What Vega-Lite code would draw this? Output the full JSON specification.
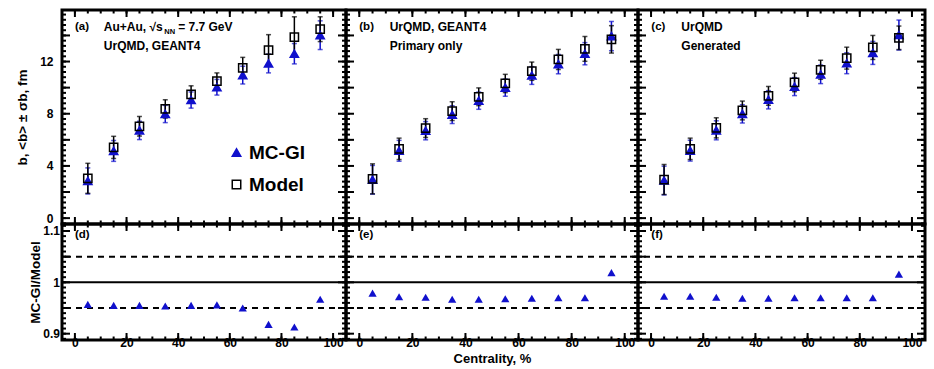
{
"$schema": "https://vega.github.io/schema/vega-lite/v6.json",
"padding": {"left": 14, "top": 7, "right": 2, "bottom": 2},
"background": "white",
"bounds": "flush",
"config": {
  "view": {"stroke": "black", "strokeWidth": 3},
  "font": "Liberation Sans",
  "axis": {"domain": false, "grid": false, "ticks": false, "labelFont": "Liberation Sans", "labelFontWeight": "bold", "labelFontSize": 12, "labelColor": "black", "titleFont": "Liberation Sans", "titleFontWeight": "bold", "titleFontSize": 13.5, "titleColor": "black", "minExtent": 0, "labelFlush": false, "labelOverlap": false},
  "rule": {"color": "black", "strokeWidth": 2},
  "text": {"font": "Liberation Sans", "fontWeight": "bold", "color": "black"}
},
"datasets": {
  "xmaj": [{"v":0},{"v":20},{"v":40},{"v":60},{"v":80},{"v":100}],
  "xmin": [{"v":0},{"v":5},{"v":10},{"v":15},{"v":20},{"v":25},{"v":30},{"v":35},{"v":40},{"v":45},{"v":50},{"v":55},{"v":60},{"v":65},{"v":70},{"v":75},{"v":80},{"v":85},{"v":90},{"v":95},{"v":100}],
  "ytmaj": [{"v":0},{"v":2},{"v":4},{"v":6},{"v":8},{"v":10},{"v":12},{"v":14}],
  "ytmin": [{"v":-0.4},{"v":0},{"v":0.4},{"v":0.8},{"v":1.2},{"v":1.6},{"v":2},{"v":2.4},{"v":2.8},{"v":3.2},{"v":3.6},{"v":4},{"v":4.4},{"v":4.8},{"v":5.2},{"v":5.6},{"v":6},{"v":6.4},{"v":6.8},{"v":7.2},{"v":7.6},{"v":8},{"v":8.4},{"v":8.8},{"v":9.2},{"v":9.6},{"v":10},{"v":10.4},{"v":10.8},{"v":11.2},{"v":11.6},{"v":12},{"v":12.4},{"v":12.8},{"v":13.2},{"v":13.6},{"v":14},{"v":14.4},{"v":14.8},{"v":15.2},{"v":15.6}],
  "yrmaj": [{"v":0.9},{"v":0.95},{"v":1},{"v":1.05},{"v":1.1}],
  "yrmin": [{"v":0.89},{"v":0.9},{"v":0.91},{"v":0.92},{"v":0.93},{"v":0.94},{"v":0.95},{"v":0.96},{"v":0.97},{"v":0.98},{"v":0.99},{"v":1},{"v":1.01},{"v":1.02},{"v":1.03},{"v":1.04},{"v":1.05},{"v":1.06},{"v":1.07},{"v":1.08},{"v":1.09},{"v":1.1},{"v":1.11}],
  "a": [
    {"cent":5,"series":"MC-GI","b":2.85,"sb":1.0},{"cent":15,"series":"MC-GI","b":5.15,"sb":0.8},{"cent":25,"series":"MC-GI","b":6.72,"sb":0.7},{"cent":35,"series":"MC-GI","b":7.98,"sb":0.66},{"cent":45,"series":"MC-GI","b":9.05,"sb":0.62},{"cent":55,"series":"MC-GI","b":10.03,"sb":0.6},{"cent":65,"series":"MC-GI","b":10.96,"sb":0.68},{"cent":75,"series":"MC-GI","b":11.85,"sb":0.72},{"cent":85,"series":"MC-GI","b":12.6,"sb":0.78},{"cent":95,"series":"MC-GI","b":14.02,"sb":1.1},
    {"cent":5,"series":"Model","b":3.05,"sb":1.15},{"cent":15,"series":"Model","b":5.42,"sb":0.85},{"cent":25,"series":"Model","b":7.04,"sb":0.75},{"cent":35,"series":"Model","b":8.37,"sb":0.7},{"cent":45,"series":"Model","b":9.48,"sb":0.66},{"cent":55,"series":"Model","b":10.5,"sb":0.63},{"cent":65,"series":"Model","b":11.52,"sb":0.8},{"cent":75,"series":"Model","b":12.88,"sb":1.18},{"cent":85,"series":"Model","b":13.88,"sb":1.55},{"cent":95,"series":"Model","b":14.48,"sb":0.95}
  ],
  "b": [
    {"cent":5,"series":"MC-GI","b":2.94,"sb":1.1},{"cent":15,"series":"MC-GI","b":5.16,"sb":0.8},{"cent":25,"series":"MC-GI","b":6.7,"sb":0.7},{"cent":35,"series":"MC-GI","b":7.93,"sb":0.68},{"cent":45,"series":"MC-GI","b":9.0,"sb":0.66},{"cent":55,"series":"MC-GI","b":10.0,"sb":0.66},{"cent":65,"series":"MC-GI","b":10.93,"sb":0.68},{"cent":75,"series":"MC-GI","b":11.8,"sb":0.74},{"cent":85,"series":"MC-GI","b":12.6,"sb":0.85},{"cent":95,"series":"MC-GI","b":13.95,"sb":1.12},
    {"cent":5,"series":"Model","b":3.01,"sb":1.15},{"cent":15,"series":"Model","b":5.31,"sb":0.82},{"cent":25,"series":"Model","b":6.9,"sb":0.72},{"cent":35,"series":"Model","b":8.2,"sb":0.72},{"cent":45,"series":"Model","b":9.3,"sb":0.68},{"cent":55,"series":"Model","b":10.32,"sb":0.7},{"cent":65,"series":"Model","b":11.26,"sb":0.7},{"cent":75,"series":"Model","b":12.16,"sb":0.77},{"cent":85,"series":"Model","b":12.97,"sb":0.95},{"cent":95,"series":"Model","b":13.7,"sb":1.05}
  ],
  "c": [
    {"cent":5,"series":"MC-GI","b":2.88,"sb":1.1},{"cent":15,"series":"MC-GI","b":5.17,"sb":0.8},{"cent":25,"series":"MC-GI","b":6.73,"sb":0.73},{"cent":35,"series":"MC-GI","b":7.99,"sb":0.7},{"cent":45,"series":"MC-GI","b":9.07,"sb":0.7},{"cent":55,"series":"MC-GI","b":10.08,"sb":0.69},{"cent":65,"series":"MC-GI","b":11.02,"sb":0.71},{"cent":75,"series":"MC-GI","b":11.87,"sb":0.8},{"cent":85,"series":"MC-GI","b":12.66,"sb":0.88},{"cent":95,"series":"MC-GI","b":14.03,"sb":1.15},
    {"cent":5,"series":"Model","b":2.96,"sb":1.15},{"cent":15,"series":"Model","b":5.31,"sb":0.82},{"cent":25,"series":"Model","b":6.92,"sb":0.77},{"cent":35,"series":"Model","b":8.25,"sb":0.72},{"cent":45,"series":"Model","b":9.37,"sb":0.72},{"cent":55,"series":"Model","b":10.4,"sb":0.71},{"cent":65,"series":"Model","b":11.37,"sb":0.73},{"cent":75,"series":"Model","b":12.26,"sb":0.84},{"cent":85,"series":"Model","b":13.08,"sb":0.92},{"cent":95,"series":"Model","b":13.82,"sb":0.9}
  ],
  "d": [{"cent":5,"r":0.957},{"cent":15,"r":0.955},{"cent":25,"r":0.955},{"cent":35,"r":0.954},{"cent":45,"r":0.955},{"cent":55,"r":0.956},{"cent":65,"r":0.95},{"cent":75,"r":0.918},{"cent":85,"r":0.913},{"cent":95,"r":0.967}],
  "e": [{"cent":5,"r":0.979},{"cent":15,"r":0.972},{"cent":25,"r":0.971},{"cent":35,"r":0.967},{"cent":45,"r":0.967},{"cent":55,"r":0.968},{"cent":65,"r":0.969},{"cent":75,"r":0.97},{"cent":85,"r":0.97},{"cent":95,"r":1.019}],
  "f": [{"cent":5,"r":0.973},{"cent":15,"r":0.973},{"cent":25,"r":0.971},{"cent":35,"r":0.969},{"cent":45,"r":0.969},{"cent":55,"r":0.97},{"cent":65,"r":0.97},{"cent":75,"r":0.97},{"cent":85,"r":0.97},{"cent":95,"r":1.016}]
},
"columns": 3,
"spacing": 0,
"concat": [
  {
    "width": 284, "height": 214,
    "data": {"name": "a"},
    "layer": [
      {"data": {"name": "xmaj"}, "mark": "rule", "encoding": {"x": {"field": "v", "type": "quantitative", "scale": {"domain": [-5,105], "nice": false, "zero": false}, "axis": null}, "y": {"datum": -0.45, "type": "quantitative", "scale": {"domain": [-0.45,15.95], "nice": false, "zero": false}}, "y2": {"datum": 0.086}}},
      {"data": {"name": "xmaj"}, "mark": "rule", "encoding": {"x": {"field": "v", "type": "quantitative", "scale": {"domain": [-5,105], "nice": false, "zero": false}, "axis": null}, "y": {"datum": 15.95, "type": "quantitative", "scale": {"domain": [-0.45,15.95], "nice": false, "zero": false}}, "y2": {"datum": 15.414}}},
      {"data": {"name": "xmin"}, "mark": "rule", "encoding": {"x": {"field": "v", "type": "quantitative", "scale": {"domain": [-5,105], "nice": false, "zero": false}, "axis": null}, "y": {"datum": -0.45, "type": "quantitative", "scale": {"domain": [-0.45,15.95], "nice": false, "zero": false}}, "y2": {"datum": -0.182}}},
      {"data": {"name": "xmin"}, "mark": "rule", "encoding": {"x": {"field": "v", "type": "quantitative", "scale": {"domain": [-5,105], "nice": false, "zero": false}, "axis": null}, "y": {"datum": 15.95, "type": "quantitative", "scale": {"domain": [-0.45,15.95], "nice": false, "zero": false}}, "y2": {"datum": 15.682}}},
      {"data": {"name": "ytmaj"}, "mark": "rule", "encoding": {"y": {"field": "v", "type": "quantitative", "scale": {"domain": [-0.45,15.95], "nice": false, "zero": false}}, "x": {"datum": -5, "type": "quantitative", "scale": {"domain": [-5,105], "nice": false, "zero": false}, "axis": null}, "x2": {"datum": -1.9}}},
      {"data": {"name": "ytmaj"}, "mark": "rule", "encoding": {"y": {"field": "v", "type": "quantitative", "scale": {"domain": [-0.45,15.95], "nice": false, "zero": false}}, "x": {"datum": 105, "type": "quantitative", "scale": {"domain": [-5,105], "nice": false, "zero": false}, "axis": null}, "x2": {"datum": 101.9}}},
      {"data": {"name": "ytmin"}, "mark": "rule", "encoding": {"y": {"field": "v", "type": "quantitative", "scale": {"domain": [-0.45,15.95], "nice": false, "zero": false}}, "x": {"datum": -5, "type": "quantitative", "scale": {"domain": [-5,105], "nice": false, "zero": false}, "axis": null}, "x2": {"datum": -3.45}}},
      {"data": {"name": "ytmin"}, "mark": "rule", "encoding": {"y": {"field": "v", "type": "quantitative", "scale": {"domain": [-0.45,15.95], "nice": false, "zero": false}}, "x": {"datum": 105, "type": "quantitative", "scale": {"domain": [-5,105], "nice": false, "zero": false}, "axis": null}, "x2": {"datum": 103.45}}},
      {"transform": [{"filter": "datum.series === 'MC-GI'"}], "mark": {"type": "errorbar", "ticks": true, "color": "#1010cc", "thickness": 1.5, "size": 5}, "encoding": {"x": {"field": "cent", "type": "quantitative", "scale": {"domain": [-5,105], "nice": false, "zero": false}, "axis": null}, "y": {"field": "b", "type": "quantitative", "scale": {"domain": [-0.45,15.95], "nice": false, "zero": false}}, "yError": {"field": "sb"}}},
      {"transform": [{"filter": "datum.series === 'Model'"}], "mark": {"type": "errorbar", "ticks": true, "color": "black", "thickness": 1.5, "size": 5}, "encoding": {"x": {"field": "cent", "type": "quantitative", "scale": {"domain": [-5,105], "nice": false, "zero": false}, "axis": null}, "y": {"field": "b", "type": "quantitative", "scale": {"domain": [-0.45,15.95], "nice": false, "zero": false}}, "yError": {"field": "sb"}}},
      {"mark": {"type": "point", "opacity": 1, "strokeWidth": 1.5, "size": 68}, "encoding": {
        "x": {"field": "cent", "type": "quantitative", "scale": {"domain": [-5,105], "nice": false, "zero": false}, "axis": null},
        "y": {"field": "b", "type": "quantitative", "scale": {"domain": [-0.45,15.95], "nice": false, "zero": false}, "axis": {"orient": "left", "values": [0,2,4,6,8,10,12,14], "labelPadding": 9, "title": "<b> ± σb, fm", "titlePadding": 10}},
        "shape": {"field": "series", "type": "nominal", "scale": {"domain": ["MC-GI","Model"], "range": ["triangle-up","square"]}, "legend": {"orient": "none", "legendX": 165, "legendY": 133, "title": null, "labelFontSize": 19, "labelFont": "Liberation Sans", "labelFontWeight": "bold", "labelColor": "black", "symbolSize": 72, "symbolStrokeWidth": 1.5, "rowPadding": 12, "labelOffset": 3, "padding": 0}},
        "fill": {"field": "series", "type": "nominal", "scale": {"domain": ["MC-GI","Model"], "range": ["#1010cc","transparent"]}, "legend": {"orient": "none", "legendX": 165, "legendY": 133, "title": null, "labelFontSize": 19, "labelFont": "Liberation Sans", "labelFontWeight": "bold", "labelColor": "black", "symbolSize": 72, "symbolStrokeWidth": 1.5, "rowPadding": 12, "labelOffset": 3, "padding": 0}},
        "stroke": {"field": "series", "type": "nominal", "scale": {"domain": ["MC-GI","Model"], "range": ["#1010cc","black"]}, "legend": {"orient": "none", "legendX": 165, "legendY": 133, "title": null, "labelFontSize": 19, "labelFont": "Liberation Sans", "labelFontWeight": "bold", "labelColor": "black", "symbolSize": 72, "symbolStrokeWidth": 1.5, "rowPadding": 12, "labelOffset": 3, "padding": 0}}
      }},
      {"data": {"values": [{"t": "(a)"}]}, "mark": {"type": "text", "align": "left", "baseline": "middle", "fontSize": 11.5}, "encoding": {"text": {"field": "t"}, "x": {"datum": 0, "type": "quantitative", "scale": {"domain": [-5,105], "nice": false, "zero": false}, "axis": null}, "y": {"datum": 14.65, "type": "quantitative", "scale": {"domain": [-0.45,15.95], "nice": false, "zero": false}}}},
      {"data": {"values": [{"t": "Au+Au, √s"}]}, "mark": {"type": "text", "align": "left", "baseline": "middle", "fontSize": 12}, "encoding": {"text": {"field": "t"}, "x": {"datum": 11.2, "type": "quantitative", "scale": {"domain": [-5,105], "nice": false, "zero": false}, "axis": null}, "y": {"datum": 14.65, "type": "quantitative", "scale": {"domain": [-0.45,15.95], "nice": false, "zero": false}}}},
      {"data": {"values": [{"t": "NN"}]}, "mark": {"type": "text", "align": "left", "baseline": "middle", "fontSize": 7.5}, "encoding": {"text": {"field": "t"}, "x": {"datum": 34.6, "type": "quantitative", "scale": {"domain": [-5,105], "nice": false, "zero": false}, "axis": null}, "y": {"datum": 14.3, "type": "quantitative", "scale": {"domain": [-0.45,15.95], "nice": false, "zero": false}}}},
      {"data": {"values": [{"t": "= 7.7 GeV"}]}, "mark": {"type": "text", "align": "left", "baseline": "middle", "fontSize": 12}, "encoding": {"text": {"field": "t"}, "x": {"datum": 40, "type": "quantitative", "scale": {"domain": [-5,105], "nice": false, "zero": false}, "axis": null}, "y": {"datum": 14.65, "type": "quantitative", "scale": {"domain": [-0.45,15.95], "nice": false, "zero": false}}}},
      {"data": {"values": [{"t": "UrQMD, GEANT4"}]}, "mark": {"type": "text", "align": "left", "baseline": "middle", "fontSize": 12}, "encoding": {"text": {"field": "t"}, "x": {"datum": 11.2, "type": "quantitative", "scale": {"domain": [-5,105], "nice": false, "zero": false}, "axis": null}, "y": {"datum": 13.17, "type": "quantitative", "scale": {"domain": [-0.45,15.95], "nice": false, "zero": false}}}}
    ]
  },
  {
    "width": 292, "height": 214,
    "data": {"name": "b"},
    "layer": [
      {"data": {"name": "xmaj"}, "mark": "rule", "encoding": {"x": {"field": "v", "type": "quantitative", "scale": {"domain": [-5,105], "nice": false, "zero": false}, "axis": null}, "y": {"datum": -0.45, "type": "quantitative", "scale": {"domain": [-0.45,15.95], "nice": false, "zero": false}, "axis": null}, "y2": {"datum": 0.086}}},
      {"data": {"name": "xmaj"}, "mark": "rule", "encoding": {"x": {"field": "v", "type": "quantitative", "scale": {"domain": [-5,105], "nice": false, "zero": false}, "axis": null}, "y": {"datum": 15.95, "type": "quantitative", "scale": {"domain": [-0.45,15.95], "nice": false, "zero": false}, "axis": null}, "y2": {"datum": 15.414}}},
      {"data": {"name": "xmin"}, "mark": "rule", "encoding": {"x": {"field": "v", "type": "quantitative", "scale": {"domain": [-5,105], "nice": false, "zero": false}, "axis": null}, "y": {"datum": -0.45, "type": "quantitative", "scale": {"domain": [-0.45,15.95], "nice": false, "zero": false}, "axis": null}, "y2": {"datum": -0.182}}},
      {"data": {"name": "xmin"}, "mark": "rule", "encoding": {"x": {"field": "v", "type": "quantitative", "scale": {"domain": [-5,105], "nice": false, "zero": false}, "axis": null}, "y": {"datum": 15.95, "type": "quantitative", "scale": {"domain": [-0.45,15.95], "nice": false, "zero": false}, "axis": null}, "y2": {"datum": 15.682}}},
      {"data": {"name": "ytmaj"}, "mark": "rule", "encoding": {"y": {"field": "v", "type": "quantitative", "scale": {"domain": [-0.45,15.95], "nice": false, "zero": false}, "axis": null}, "x": {"datum": -5, "type": "quantitative", "scale": {"domain": [-5,105], "nice": false, "zero": false}, "axis": null}, "x2": {"datum": -1.99}}},
      {"data": {"name": "ytmaj"}, "mark": "rule", "encoding": {"y": {"field": "v", "type": "quantitative", "scale": {"domain": [-0.45,15.95], "nice": false, "zero": false}, "axis": null}, "x": {"datum": 105, "type": "quantitative", "scale": {"domain": [-5,105], "nice": false, "zero": false}, "axis": null}, "x2": {"datum": 101.99}}},
      {"data": {"name": "ytmin"}, "mark": "rule", "encoding": {"y": {"field": "v", "type": "quantitative", "scale": {"domain": [-0.45,15.95], "nice": false, "zero": false}, "axis": null}, "x": {"datum": -5, "type": "quantitative", "scale": {"domain": [-5,105], "nice": false, "zero": false}, "axis": null}, "x2": {"datum": -3.49}}},
      {"data": {"name": "ytmin"}, "mark": "rule", "encoding": {"y": {"field": "v", "type": "quantitative", "scale": {"domain": [-0.45,15.95], "nice": false, "zero": false}, "axis": null}, "x": {"datum": 105, "type": "quantitative", "scale": {"domain": [-5,105], "nice": false, "zero": false}, "axis": null}, "x2": {"datum": 103.49}}},
      {"transform": [{"filter": "datum.series === 'MC-GI'"}], "mark": {"type": "errorbar", "ticks": true, "color": "#1010cc", "thickness": 1.5, "size": 5}, "encoding": {"x": {"field": "cent", "type": "quantitative", "scale": {"domain": [-5,105], "nice": false, "zero": false}, "axis": null}, "y": {"field": "b", "type": "quantitative", "scale": {"domain": [-0.45,15.95], "nice": false, "zero": false}, "axis": null}, "yError": {"field": "sb"}}},
      {"transform": [{"filter": "datum.series === 'Model'"}], "mark": {"type": "errorbar", "ticks": true, "color": "black", "thickness": 1.5, "size": 5}, "encoding": {"x": {"field": "cent", "type": "quantitative", "scale": {"domain": [-5,105], "nice": false, "zero": false}, "axis": null}, "y": {"field": "b", "type": "quantitative", "scale": {"domain": [-0.45,15.95], "nice": false, "zero": false}, "axis": null}, "yError": {"field": "sb"}}},
      {"mark": {"type": "point", "opacity": 1, "strokeWidth": 1.5, "size": 68}, "encoding": {
        "x": {"field": "cent", "type": "quantitative", "scale": {"domain": [-5,105], "nice": false, "zero": false}, "axis": null},
        "y": {"field": "b", "type": "quantitative", "scale": {"domain": [-0.45,15.95], "nice": false, "zero": false}, "axis": null},
        "shape": {"field": "series", "type": "nominal", "scale": {"domain": ["MC-GI","Model"], "range": ["triangle-up","square"]}},
        "fill": {"field": "series", "type": "nominal", "scale": {"domain": ["MC-GI","Model"], "range": ["#1010cc","transparent"]}},
        "stroke": {"field": "series", "type": "nominal", "scale": {"domain": ["MC-GI","Model"], "range": ["#1010cc","black"]}}
      }},
      {"data": {"values": [{"t": "(b)"}]}, "mark": {"type": "text", "align": "left", "baseline": "middle", "fontSize": 11.5}, "encoding": {"text": {"field": "t"}, "x": {"datum": 0, "type": "quantitative", "scale": {"domain": [-5,105], "nice": false, "zero": false}, "axis": null}, "y": {"datum": 14.65, "type": "quantitative", "scale": {"domain": [-0.45,15.95], "nice": false, "zero": false}, "axis": null}}},
      {"data": {"values": [{"t": "UrQMD, GEANT4"}]}, "mark": {"type": "text", "align": "left", "baseline": "middle", "fontSize": 12}, "encoding": {"text": {"field": "t"}, "x": {"datum": 11.45, "type": "quantitative", "scale": {"domain": [-5,105], "nice": false, "zero": false}, "axis": null}, "y": {"datum": 14.65, "type": "quantitative", "scale": {"domain": [-0.45,15.95], "nice": false, "zero": false}, "axis": null}}},
      {"data": {"values": [{"t": "Primary only"}]}, "mark": {"type": "text", "align": "left", "baseline": "middle", "fontSize": 12}, "encoding": {"text": {"field": "t"}, "x": {"datum": 11.45, "type": "quantitative", "scale": {"domain": [-5,105], "nice": false, "zero": false}, "axis": null}, "y": {"datum": 13.17, "type": "quantitative", "scale": {"domain": [-0.45,15.95], "nice": false, "zero": false}, "axis": null}}}
    ]
  },
  {
    "width": 287, "height": 214,
    "data": {"name": "c"},
    "layer": [
      {"data": {"name": "xmaj"}, "mark": "rule", "encoding": {"x": {"field": "v", "type": "quantitative", "scale": {"domain": [-5,105], "nice": false, "zero": false}, "axis": null}, "y": {"datum": -0.45, "type": "quantitative", "scale": {"domain": [-0.45,15.95], "nice": false, "zero": false}, "axis": null}, "y2": {"datum": 0.086}}},
      {"data": {"name": "xmaj"}, "mark": "rule", "encoding": {"x": {"field": "v", "type": "quantitative", "scale": {"domain": [-5,105], "nice": false, "zero": false}, "axis": null}, "y": {"datum": 15.95, "type": "quantitative", "scale": {"domain": [-0.45,15.95], "nice": false, "zero": false}, "axis": null}, "y2": {"datum": 15.414}}},
      {"data": {"name": "xmin"}, "mark": "rule", "encoding": {"x": {"field": "v", "type": "quantitative", "scale": {"domain": [-5,105], "nice": false, "zero": false}, "axis": null}, "y": {"datum": -0.45, "type": "quantitative", "scale": {"domain": [-0.45,15.95], "nice": false, "zero": false}, "axis": null}, "y2": {"datum": -0.182}}},
      {"data": {"name": "xmin"}, "mark": "rule", "encoding": {"x": {"field": "v", "type": "quantitative", "scale": {"domain": [-5,105], "nice": false, "zero": false}, "axis": null}, "y": {"datum": 15.95, "type": "quantitative", "scale": {"domain": [-0.45,15.95], "nice": false, "zero": false}, "axis": null}, "y2": {"datum": 15.682}}},
      {"data": {"name": "ytmaj"}, "mark": "rule", "encoding": {"y": {"field": "v", "type": "quantitative", "scale": {"domain": [-0.45,15.95], "nice": false, "zero": false}, "axis": null}, "x": {"datum": -5, "type": "quantitative", "scale": {"domain": [-5,105], "nice": false, "zero": false}, "axis": null}, "x2": {"datum": -1.93}}},
      {"data": {"name": "ytmaj"}, "mark": "rule", "encoding": {"y": {"field": "v", "type": "quantitative", "scale": {"domain": [-0.45,15.95], "nice": false, "zero": false}, "axis": null}, "x": {"datum": 105, "type": "quantitative", "scale": {"domain": [-5,105], "nice": false, "zero": false}, "axis": null}, "x2": {"datum": 101.93}}},
      {"data": {"name": "ytmin"}, "mark": "rule", "encoding": {"y": {"field": "v", "type": "quantitative", "scale": {"domain": [-0.45,15.95], "nice": false, "zero": false}, "axis": null}, "x": {"datum": -5, "type": "quantitative", "scale": {"domain": [-5,105], "nice": false, "zero": false}, "axis": null}, "x2": {"datum": -3.47}}},
      {"data": {"name": "ytmin"}, "mark": "rule", "encoding": {"y": {"field": "v", "type": "quantitative", "scale": {"domain": [-0.45,15.95], "nice": false, "zero": false}, "axis": null}, "x": {"datum": 105, "type": "quantitative", "scale": {"domain": [-5,105], "nice": false, "zero": false}, "axis": null}, "x2": {"datum": 103.47}}},
      {"transform": [{"filter": "datum.series === 'MC-GI'"}], "mark": {"type": "errorbar", "ticks": true, "color": "#1010cc", "thickness": 1.5, "size": 5}, "encoding": {"x": {"field": "cent", "type": "quantitative", "scale": {"domain": [-5,105], "nice": false, "zero": false}, "axis": null}, "y": {"field": "b", "type": "quantitative", "scale": {"domain": [-0.45,15.95], "nice": false, "zero": false}, "axis": null}, "yError": {"field": "sb"}}},
      {"transform": [{"filter": "datum.series === 'Model'"}], "mark": {"type": "errorbar", "ticks": true, "color": "black", "thickness": 1.5, "size": 5}, "encoding": {"x": {"field": "cent", "type": "quantitative", "scale": {"domain": [-5,105], "nice": false, "zero": false}, "axis": null}, "y": {"field": "b", "type": "quantitative", "scale": {"domain": [-0.45,15.95], "nice": false, "zero": false}, "axis": null}, "yError": {"field": "sb"}}},
      {"mark": {"type": "point", "opacity": 1, "strokeWidth": 1.5, "size": 68}, "encoding": {
        "x": {"field": "cent", "type": "quantitative", "scale": {"domain": [-5,105], "nice": false, "zero": false}, "axis": null},
        "y": {"field": "b", "type": "quantitative", "scale": {"domain": [-0.45,15.95], "nice": false, "zero": false}, "axis": null},
        "shape": {"field": "series", "type": "nominal", "scale": {"domain": ["MC-GI","Model"], "range": ["triangle-up","square"]}},
        "fill": {"field": "series", "type": "nominal", "scale": {"domain": ["MC-GI","Model"], "range": ["#1010cc","transparent"]}},
        "stroke": {"field": "series", "type": "nominal", "scale": {"domain": ["MC-GI","Model"], "range": ["#1010cc","black"]}}
      }},
      {"data": {"values": [{"t": "(c)"}]}, "mark": {"type": "text", "align": "left", "baseline": "middle", "fontSize": 11.5}, "encoding": {"text": {"field": "t"}, "x": {"datum": 0.1, "type": "quantitative", "scale": {"domain": [-5,105], "nice": false, "zero": false}, "axis": null}, "y": {"datum": 14.65, "type": "quantitative", "scale": {"domain": [-0.45,15.95], "nice": false, "zero": false}, "axis": null}}},
      {"data": {"values": [{"t": "UrQMD"}]}, "mark": {"type": "text", "align": "left", "baseline": "middle", "fontSize": 12}, "encoding": {"text": {"field": "t"}, "x": {"datum": 11.6, "type": "quantitative", "scale": {"domain": [-5,105], "nice": false, "zero": false}, "axis": null}, "y": {"datum": 14.65, "type": "quantitative", "scale": {"domain": [-0.45,15.95], "nice": false, "zero": false}, "axis": null}}},
      {"data": {"values": [{"t": "Generated"}]}, "mark": {"type": "text", "align": "left", "baseline": "middle", "fontSize": 12}, "encoding": {"text": {"field": "t"}, "x": {"datum": 11.6, "type": "quantitative", "scale": {"domain": [-5,105], "nice": false, "zero": false}, "axis": null}, "y": {"datum": 13.17, "type": "quantitative", "scale": {"domain": [-0.45,15.95], "nice": false, "zero": false}, "axis": null}}}
    ]
  },
  {
    "width": 284, "height": 116,
    "data": {"name": "d"},
    "layer": [
      {"data": {"name": "xmaj"}, "mark": "rule", "encoding": {"x": {"field": "v", "type": "quantitative", "scale": {"domain": [-5,105], "nice": false, "zero": false}}, "y": {"datum": 0.8877, "type": "quantitative", "scale": {"domain": [0.8877,1.1136], "nice": false, "zero": false}}, "y2": {"datum": 0.9013}}},
      {"data": {"name": "xmaj"}, "mark": "rule", "encoding": {"x": {"field": "v", "type": "quantitative", "scale": {"domain": [-5,105], "nice": false, "zero": false}}, "y": {"datum": 1.1136, "type": "quantitative", "scale": {"domain": [0.8877,1.1136], "nice": false, "zero": false}}, "y2": {"datum": 1.1}}},
      {"data": {"name": "xmin"}, "mark": "rule", "encoding": {"x": {"field": "v", "type": "quantitative", "scale": {"domain": [-5,105], "nice": false, "zero": false}}, "y": {"datum": 0.8877, "type": "quantitative", "scale": {"domain": [0.8877,1.1136], "nice": false, "zero": false}}, "y2": {"datum": 0.8945}}},
      {"data": {"name": "xmin"}, "mark": "rule", "encoding": {"x": {"field": "v", "type": "quantitative", "scale": {"domain": [-5,105], "nice": false, "zero": false}}, "y": {"datum": 1.1136, "type": "quantitative", "scale": {"domain": [0.8877,1.1136], "nice": false, "zero": false}}, "y2": {"datum": 1.1068}}},
      {"data": {"name": "yrmaj"}, "mark": "rule", "encoding": {"y": {"field": "v", "type": "quantitative", "scale": {"domain": [0.8877,1.1136], "nice": false, "zero": false}}, "x": {"datum": -5, "type": "quantitative", "scale": {"domain": [-5,105], "nice": false, "zero": false}}, "x2": {"datum": -1.9}}},
      {"data": {"name": "yrmaj"}, "mark": "rule", "encoding": {"y": {"field": "v", "type": "quantitative", "scale": {"domain": [0.8877,1.1136], "nice": false, "zero": false}}, "x": {"datum": 105, "type": "quantitative", "scale": {"domain": [-5,105], "nice": false, "zero": false}}, "x2": {"datum": 101.9}}},
      {"data": {"name": "yrmin"}, "mark": "rule", "encoding": {"y": {"field": "v", "type": "quantitative", "scale": {"domain": [0.8877,1.1136], "nice": false, "zero": false}}, "x": {"datum": -5, "type": "quantitative", "scale": {"domain": [-5,105], "nice": false, "zero": false}}, "x2": {"datum": -3.45}}},
      {"data": {"name": "yrmin"}, "mark": "rule", "encoding": {"y": {"field": "v", "type": "quantitative", "scale": {"domain": [0.8877,1.1136], "nice": false, "zero": false}}, "x": {"datum": 105, "type": "quantitative", "scale": {"domain": [-5,105], "nice": false, "zero": false}}, "x2": {"datum": 103.45}}},
      {"data": {"values": [{}]}, "mark": {"type": "rule", "strokeWidth": 2, "color": "black"}, "encoding": {"y": {"datum": 1, "type": "quantitative", "scale": {"domain": [0.8877,1.1136], "nice": false, "zero": false}}}},
      {"data": {"values": [{"v": 1.05},{"v": 0.95}]}, "mark": {"type": "rule", "strokeWidth": 2, "color": "black", "strokeDash": [6,5]}, "encoding": {"y": {"field": "v", "type": "quantitative", "scale": {"domain": [0.8877,1.1136], "nice": false, "zero": false}}}},
      {"mark": {"type": "point", "shape": "triangle-up", "filled": true, "color": "#1010cc", "opacity": 1, "size": 68}, "encoding": {"x": {"field": "cent", "type": "quantitative", "scale": {"domain": [-5,105], "nice": false, "zero": false}, "axis": {"orient": "bottom", "values": [0,20,40,60,80,100], "labelPadding": -3, "title": null}}, "y": {"field": "r", "type": "quantitative", "scale": {"domain": [0.8877,1.1136], "nice": false, "zero": false}, "axis": {"orient": "left", "values": [0.9,0.95,1,1.05,1.1], "format": "~g", "labelPadding": 2.5, "title": "MC-GI/Model", "titlePadding": 0}}}},
      {"data": {"values": [{"t": "(d)"}]}, "mark": {"type": "text", "align": "left", "baseline": "middle", "fontSize": 11.5}, "encoding": {"text": {"field": "t"}, "x": {"datum": 0, "type": "quantitative", "scale": {"domain": [-5,105], "nice": false, "zero": false}}, "y": {"datum": 1.0916, "type": "quantitative", "scale": {"domain": [0.8877,1.1136], "nice": false, "zero": false}}}}
    ]
  },
  {
    "width": 292, "height": 116,
    "data": {"name": "e"},
    "layer": [
      {"data": {"name": "xmaj"}, "mark": "rule", "encoding": {"x": {"field": "v", "type": "quantitative", "scale": {"domain": [-5,105], "nice": false, "zero": false}}, "y": {"datum": 0.8877, "type": "quantitative", "scale": {"domain": [0.8877,1.1136], "nice": false, "zero": false}, "axis": null}, "y2": {"datum": 0.9013}}},
      {"data": {"name": "xmaj"}, "mark": "rule", "encoding": {"x": {"field": "v", "type": "quantitative", "scale": {"domain": [-5,105], "nice": false, "zero": false}}, "y": {"datum": 1.1136, "type": "quantitative", "scale": {"domain": [0.8877,1.1136], "nice": false, "zero": false}, "axis": null}, "y2": {"datum": 1.1}}},
      {"data": {"name": "xmin"}, "mark": "rule", "encoding": {"x": {"field": "v", "type": "quantitative", "scale": {"domain": [-5,105], "nice": false, "zero": false}}, "y": {"datum": 0.8877, "type": "quantitative", "scale": {"domain": [0.8877,1.1136], "nice": false, "zero": false}, "axis": null}, "y2": {"datum": 0.8945}}},
      {"data": {"name": "xmin"}, "mark": "rule", "encoding": {"x": {"field": "v", "type": "quantitative", "scale": {"domain": [-5,105], "nice": false, "zero": false}}, "y": {"datum": 1.1136, "type": "quantitative", "scale": {"domain": [0.8877,1.1136], "nice": false, "zero": false}, "axis": null}, "y2": {"datum": 1.1068}}},
      {"data": {"name": "yrmaj"}, "mark": "rule", "encoding": {"y": {"field": "v", "type": "quantitative", "scale": {"domain": [0.8877,1.1136], "nice": false, "zero": false}, "axis": null}, "x": {"datum": -5, "type": "quantitative", "scale": {"domain": [-5,105], "nice": false, "zero": false}}, "x2": {"datum": -1.99}}},
      {"data": {"name": "yrmaj"}, "mark": "rule", "encoding": {"y": {"field": "v", "type": "quantitative", "scale": {"domain": [0.8877,1.1136], "nice": false, "zero": false}, "axis": null}, "x": {"datum": 105, "type": "quantitative", "scale": {"domain": [-5,105], "nice": false, "zero": false}}, "x2": {"datum": 101.99}}},
      {"data": {"name": "yrmin"}, "mark": "rule", "encoding": {"y": {"field": "v", "type": "quantitative", "scale": {"domain": [0.8877,1.1136], "nice": false, "zero": false}, "axis": null}, "x": {"datum": -5, "type": "quantitative", "scale": {"domain": [-5,105], "nice": false, "zero": false}}, "x2": {"datum": -3.49}}},
      {"data": {"name": "yrmin"}, "mark": "rule", "encoding": {"y": {"field": "v", "type": "quantitative", "scale": {"domain": [0.8877,1.1136], "nice": false, "zero": false}, "axis": null}, "x": {"datum": 105, "type": "quantitative", "scale": {"domain": [-5,105], "nice": false, "zero": false}}, "x2": {"datum": 103.49}}},
      {"data": {"values": [{}]}, "mark": {"type": "rule", "strokeWidth": 2, "color": "black"}, "encoding": {"y": {"datum": 1, "type": "quantitative", "scale": {"domain": [0.8877,1.1136], "nice": false, "zero": false}, "axis": null}}},
      {"data": {"values": [{"v": 1.05},{"v": 0.95}]}, "mark": {"type": "rule", "strokeWidth": 2, "color": "black", "strokeDash": [6,5]}, "encoding": {"y": {"field": "v", "type": "quantitative", "scale": {"domain": [0.8877,1.1136], "nice": false, "zero": false}, "axis": null}}},
      {"mark": {"type": "point", "shape": "triangle-up", "filled": true, "color": "#1010cc", "opacity": 1, "size": 68}, "encoding": {"x": {"field": "cent", "type": "quantitative", "scale": {"domain": [-5,105], "nice": false, "zero": false}, "axis": {"orient": "bottom", "values": [0,20,40,60,80,100], "labelPadding": -3, "title": "Centrality, %", "titlePadding": 4, "titleFontSize": 13}}, "y": {"field": "r", "type": "quantitative", "scale": {"domain": [0.8877,1.1136], "nice": false, "zero": false}, "axis": null}}},
      {"data": {"values": [{"t": "(e)"}]}, "mark": {"type": "text", "align": "left", "baseline": "middle", "fontSize": 11.5}, "encoding": {"text": {"field": "t"}, "x": {"datum": 0, "type": "quantitative", "scale": {"domain": [-5,105], "nice": false, "zero": false}}, "y": {"datum": 1.0916, "type": "quantitative", "scale": {"domain": [0.8877,1.1136], "nice": false, "zero": false}, "axis": null}}}
    ]
  },
  {
    "width": 287, "height": 116,
    "data": {"name": "f"},
    "layer": [
      {"data": {"name": "xmaj"}, "mark": "rule", "encoding": {"x": {"field": "v", "type": "quantitative", "scale": {"domain": [-5,105], "nice": false, "zero": false}}, "y": {"datum": 0.8877, "type": "quantitative", "scale": {"domain": [0.8877,1.1136], "nice": false, "zero": false}, "axis": null}, "y2": {"datum": 0.9013}}},
      {"data": {"name": "xmaj"}, "mark": "rule", "encoding": {"x": {"field": "v", "type": "quantitative", "scale": {"domain": [-5,105], "nice": false, "zero": false}}, "y": {"datum": 1.1136, "type": "quantitative", "scale": {"domain": [0.8877,1.1136], "nice": false, "zero": false}, "axis": null}, "y2": {"datum": 1.1}}},
      {"data": {"name": "xmin"}, "mark": "rule", "encoding": {"x": {"field": "v", "type": "quantitative", "scale": {"domain": [-5,105], "nice": false, "zero": false}}, "y": {"datum": 0.8877, "type": "quantitative", "scale": {"domain": [0.8877,1.1136], "nice": false, "zero": false}, "axis": null}, "y2": {"datum": 0.8945}}},
      {"data": {"name": "xmin"}, "mark": "rule", "encoding": {"x": {"field": "v", "type": "quantitative", "scale": {"domain": [-5,105], "nice": false, "zero": false}}, "y": {"datum": 1.1136, "type": "quantitative", "scale": {"domain": [0.8877,1.1136], "nice": false, "zero": false}, "axis": null}, "y2": {"datum": 1.1068}}},
      {"data": {"name": "yrmaj"}, "mark": "rule", "encoding": {"y": {"field": "v", "type": "quantitative", "scale": {"domain": [0.8877,1.1136], "nice": false, "zero": false}, "axis": null}, "x": {"datum": -5, "type": "quantitative", "scale": {"domain": [-5,105], "nice": false, "zero": false}}, "x2": {"datum": -1.93}}},
      {"data": {"name": "yrmaj"}, "mark": "rule", "encoding": {"y": {"field": "v", "type": "quantitative", "scale": {"domain": [0.8877,1.1136], "nice": false, "zero": false}, "axis": null}, "x": {"datum": 105, "type": "quantitative", "scale": {"domain": [-5,105], "nice": false, "zero": false}}, "x2": {"datum": 101.93}}},
      {"data": {"name": "yrmin"}, "mark": "rule", "encoding": {"y": {"field": "v", "type": "quantitative", "scale": {"domain": [0.8877,1.1136], "nice": false, "zero": false}, "axis": null}, "x": {"datum": -5, "type": "quantitative", "scale": {"domain": [-5,105], "nice": false, "zero": false}}, "x2": {"datum": -3.47}}},
      {"data": {"name": "yrmin"}, "mark": "rule", "encoding": {"y": {"field": "v", "type": "quantitative", "scale": {"domain": [0.8877,1.1136], "nice": false, "zero": false}, "axis": null}, "x": {"datum": 105, "type": "quantitative", "scale": {"domain": [-5,105], "nice": false, "zero": false}}, "x2": {"datum": 103.47}}},
      {"data": {"values": [{}]}, "mark": {"type": "rule", "strokeWidth": 2, "color": "black"}, "encoding": {"y": {"datum": 1, "type": "quantitative", "scale": {"domain": [0.8877,1.1136], "nice": false, "zero": false}, "axis": null}}},
      {"data": {"values": [{"v": 1.05},{"v": 0.95}]}, "mark": {"type": "rule", "strokeWidth": 2, "color": "black", "strokeDash": [6,5]}, "encoding": {"y": {"field": "v", "type": "quantitative", "scale": {"domain": [0.8877,1.1136], "nice": false, "zero": false}, "axis": null}}},
      {"mark": {"type": "point", "shape": "triangle-up", "filled": true, "color": "#1010cc", "opacity": 1, "size": 68}, "encoding": {"x": {"field": "cent", "type": "quantitative", "scale": {"domain": [-5,105], "nice": false, "zero": false}, "axis": {"orient": "bottom", "values": [0,20,40,60,80,100], "labelPadding": -3, "title": null}}, "y": {"field": "r", "type": "quantitative", "scale": {"domain": [0.8877,1.1136], "nice": false, "zero": false}, "axis": null}}},
      {"data": {"values": [{"t": "(f)"}]}, "mark": {"type": "text", "align": "left", "baseline": "middle", "fontSize": 11.5}, "encoding": {"text": {"field": "t"}, "x": {"datum": 0.1, "type": "quantitative", "scale": {"domain": [-5,105], "nice": false, "zero": false}}, "y": {"datum": 1.0916, "type": "quantitative", "scale": {"domain": [0.8877,1.1136], "nice": false, "zero": false}, "axis": null}}}
    ]
  }
]
}
